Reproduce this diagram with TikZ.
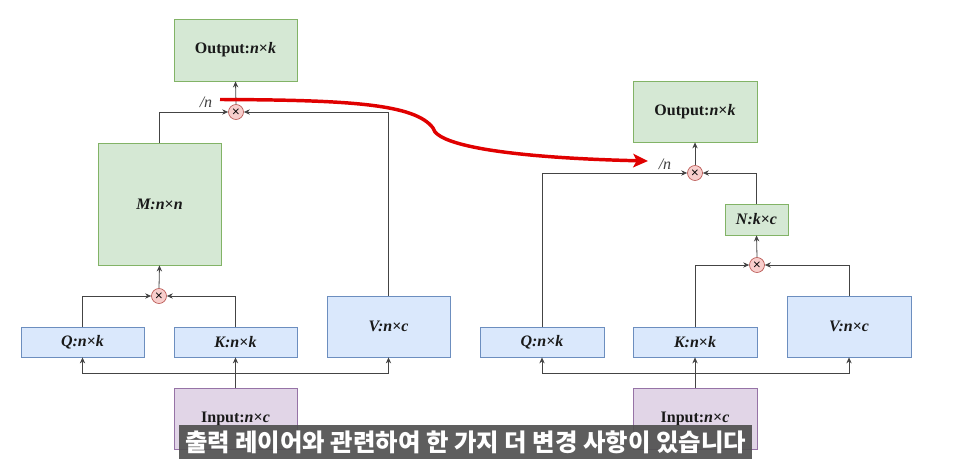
\documentclass[tikz,border=0pt]{standalone}
\usepackage{fontspec}
\setmainfont{Liberation Serif}
\usetikzlibrary{arrows.meta,calc}
\newfontfamily\krfont{Noto Sans CJK KR}
\definecolor{gfill}{HTML}{D5E8D4}\definecolor{gdraw}{HTML}{82B366}
\definecolor{bfill}{HTML}{DAE8FC}\definecolor{bdraw}{HTML}{6C8EBF}
\definecolor{pfill}{HTML}{E1D5E7}\definecolor{pdraw}{HTML}{9673A6}
\definecolor{rfill}{HTML}{F8CECC}\definecolor{rdraw}{HTML}{B85450}
\definecolor{linec}{HTML}{444444}
\definecolor{redline}{HTML}{E00000}
\definecolor{subbar}{HTML}{505050}
\newcommand{\ii}[1]{\textit{#1}}
\tikzset{
  box/.style={draw, line width=0.6pt, inner sep=0pt, text=black!90, font=\bfseries\fontsize{12}{14}\selectfont},
  gbox/.style={box, fill=gfill, draw=gdraw},
  bbox/.style={box, fill=bfill, draw=bdraw},
  pbox/.style={box, fill=pfill, draw=pdraw},
  mult/.style={circle, fill=rfill, draw=rdraw, line width=0.5pt, minimum size=11.25pt, inner sep=0pt, font=\sffamily\bfseries\fontsize{8}{8}\selectfont},
  arr/.style={draw=linec, line width=0.6pt, -{Stealth[length=4.5pt,width=4pt]}},
  lbl/.style={text=black!75, font=\itshape\fontsize{12}{14}\selectfont},
}
\begin{document}
\begin{tikzpicture}[x=0.75pt,y=-0.75pt]
\useasboundingbox (0,0) rectangle (959,470);
% ---------------- left ----------------
\node[gbox, minimum width=92.25pt, minimum height=46.5pt] (outL) at (235.5,50) {Output:\ii{n}×\ii{k}};
\node[mult] (circL) at (236,112) {×};
\node[gbox, minimum width=92.25pt, minimum height=91.5pt] (ML) at (159.5,204) {\ii{M:n}×\ii{n}};
\node[mult] (circL2) at (159,296) {×};
\node[bbox, minimum width=92.25pt, minimum height=22.5pt] (QL) at (82.5,342) {\ii{Q:n}×\ii{k}};
\node[bbox, minimum width=92.25pt, minimum height=22.5pt] (KL) at (235.5,342) {\ii{K:n}×\ii{k}};
\node[bbox, minimum width=92.25pt, minimum height=45.75pt] (VL) at (388.5,326.5) {\ii{V:n}×\ii{c}};
\node[pbox, minimum width=92.25pt, minimum height=45.75pt] (InL) at (235.5,418.5) {\raisebox{-3pt}{Input:\ii{n}×\ii{c}}};
\node[lbl] (nL) at (206,102) {/n};
\coordinate (jL) at (236,373);
\draw[arr] (ML.north) |- (circL.west);
\draw[arr] (VL.north) |- (circL.east);
\draw[arr] (circL.north) -- (outL.south);
\draw[arr] (QL.north) |- (circL2.west);
\draw[arr] (KL.north) |- (circL2.east);
\draw[arr] (circL2.north) -- (ML.south);
\draw[arr] (InL.north) -- (KL.south);
\draw[arr] (jL) -| (QL.south);
\draw[arr] (jL) -| (VL.south);
% ---------------- right ----------------
\node[gbox, minimum width=93pt, minimum height=45.75pt] (outR) at (695,111.5) {Output:\ii{n}×\ii{k}};
\node[mult] (circR) at (695,173) {×};
\node[gbox, minimum width=47.25pt, minimum height=23.25pt] (NR) at (756.5,219.5) {\ii{N:k}×\ii{c}};
\node[mult] (circR2) at (757,265) {×};
\node[bbox, minimum width=93pt, minimum height=22.5pt] (QR) at (542,342) {\ii{Q:n}×\ii{k}};
\node[bbox, minimum width=93pt, minimum height=22.5pt] (KR) at (695,342) {\ii{K:n}×\ii{k}};
\node[bbox, minimum width=93pt, minimum height=45.75pt] (VR) at (849,326.5) {\ii{V:n}×\ii{c}};
\node[pbox, minimum width=93pt, minimum height=45.75pt] (InR) at (695,418.5) {\raisebox{-3pt}{Input:\ii{n}×\ii{c}}};
\node[lbl] (nR) at (665,164) {/n};
\coordinate (jR) at (695,373);
\draw[arr] (QR.north) |- (circR.west);
\draw[arr] (NR.north) |- (circR.east);
\draw[arr] (circR.north) -- (outR.south);
\draw[arr] (KR.north) |- (circR2.west);
\draw[arr] (VR.north) |- (circR2.east);
\draw[arr] (circR2.north) -- (NR.south);
\draw[arr] (InR.north) -- (KR.south);
\draw[arr] (jR) -| (QR.south);
\draw[arr] (jR) -| (VR.south);
% ---------------- red annotation ----------------
\coordinate (rs) at (220,99.5);
\coordinate (rm) at (433,128);
\coordinate (re) at (648,161);
\draw[redline, line width=2.6pt, -{Stealth[length=11pt,width=10pt,inset=2.5pt]}]
  (rs) .. controls (350,100) and (415,104) .. (rm)
       .. controls (437,147) and (520,158) .. (re);
% ---------------- subtitle ----------------
\node[fill=subbar, fill opacity=0.92, text opacity=1, text=white, minimum width=429.75pt, minimum height=25.5pt, inner sep=0pt, font=\krfont\bfseries\fontsize{18.3}{20}\selectfont] (sub) at (465.5,442) {출력 레이어와 관련하여 한 가지 더 변경 사항이 있습니다};
\end{tikzpicture}
\end{document}
